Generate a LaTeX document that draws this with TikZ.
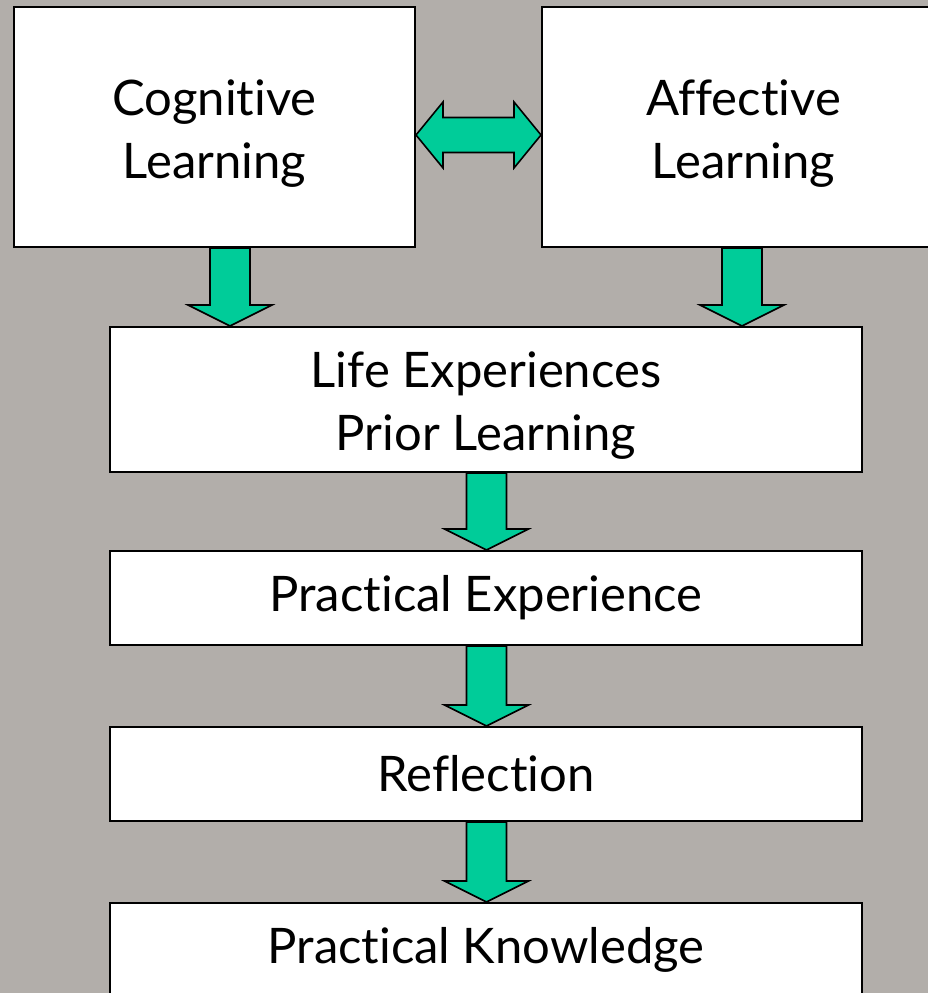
\documentclass[tikz,border=0pt]{standalone}
\usepackage{fontspec}
\setmainfont{Lato}[Ligatures=NoCommon]
\usetikzlibrary{calc}

\definecolor{slidegrey}{RGB}{178,174,170}
\definecolor{arrowgreen}{RGB}{0,204,153}

% extra room above the first line of a two-line box
\newcommand{\topgap}{\rule{0pt}{48pt}}

\tikzset{
	stage/.style={draw=black, line width=2pt, fill=white, align=center,
		font=\fontsize{49}{63}\selectfont, inner sep=0pt},
	blockarrow/.style={draw=black, line width=1.6pt, fill=arrowgreen, line join=miter},
}

% block arrow pointing down, x taken from #1, y from #1 and #2
\newcommand{\downblock}[2]{%
	\path let \p1=(#1), \p2=(#2) in [blockarrow]
		(\x1-20pt,\y1) -- (\x1-20pt,\y2+21pt) -- (\x1-42pt,\y2+21pt) -- (\x1,\y2)
		-- (\x1+42pt,\y2+21pt) -- (\x1+20pt,\y2+21pt) -- (\x1+20pt,\y1) -- cycle;}

\begin{document}
\begin{tikzpicture}[x=1pt, y=1pt]
	\useasboundingbox[fill=slidegrey] (0,0) rectangle (928,993);

	%Top row
	\node[stage, minimum width=401pt, minimum height=240pt] (cog) at (214.5, 866) {\topgap Cognitive\\Learning};
	\node[stage, minimum width=403pt, minimum height=240pt] (aff) at (743.5, 866) {\topgap Affective\\Learning};

	%Column
	\node[stage, minimum width=752pt, minimum height=145pt] (life) at (486, 593.5) {\topgap Life Experiences\\Prior Learning};
	\node[stage, minimum width=752pt, minimum height=94pt] (pexp) at (486, 395) {Practical Experience};
	\node[stage, minimum width=752pt, minimum height=94pt] (refl) at (486, 219) {Reflection};
	\node[stage, minimum width=752pt, minimum height=94pt] (pknow) at (486, 43) {Practical Knowledge};

	%Double arrow
	\path let \p1=([yshift=-8pt]cog.east), \p2=(aff.west) in [blockarrow]
		(\x1,\y1) -- (\x1+27pt,\y1+33pt) -- (\x1+27pt,\y1+17.5pt) -- (\x2-27pt,\y1+17.5pt)
		-- (\x2-27pt,\y1+33pt) -- (\x2,\y1) -- (\x2-27pt,\y1-33pt) -- (\x2-27pt,\y1-17.5pt)
		-- (\x1+27pt,\y1-17.5pt) -- (\x1+27pt,\y1-33pt) -- cycle;

	%Down arrows
	\downblock{[xshift=15.5pt]cog.south}{life.north}
	\downblock{[xshift=-1.5pt]aff.south}{life.north}
	\downblock{[xshift=0.5pt]life.south}{pexp.north}
	\downblock{[xshift=0.5pt]pexp.south}{refl.north}
	\downblock{[xshift=0.5pt]refl.south}{pknow.north}
\end{tikzpicture}
\end{document}
